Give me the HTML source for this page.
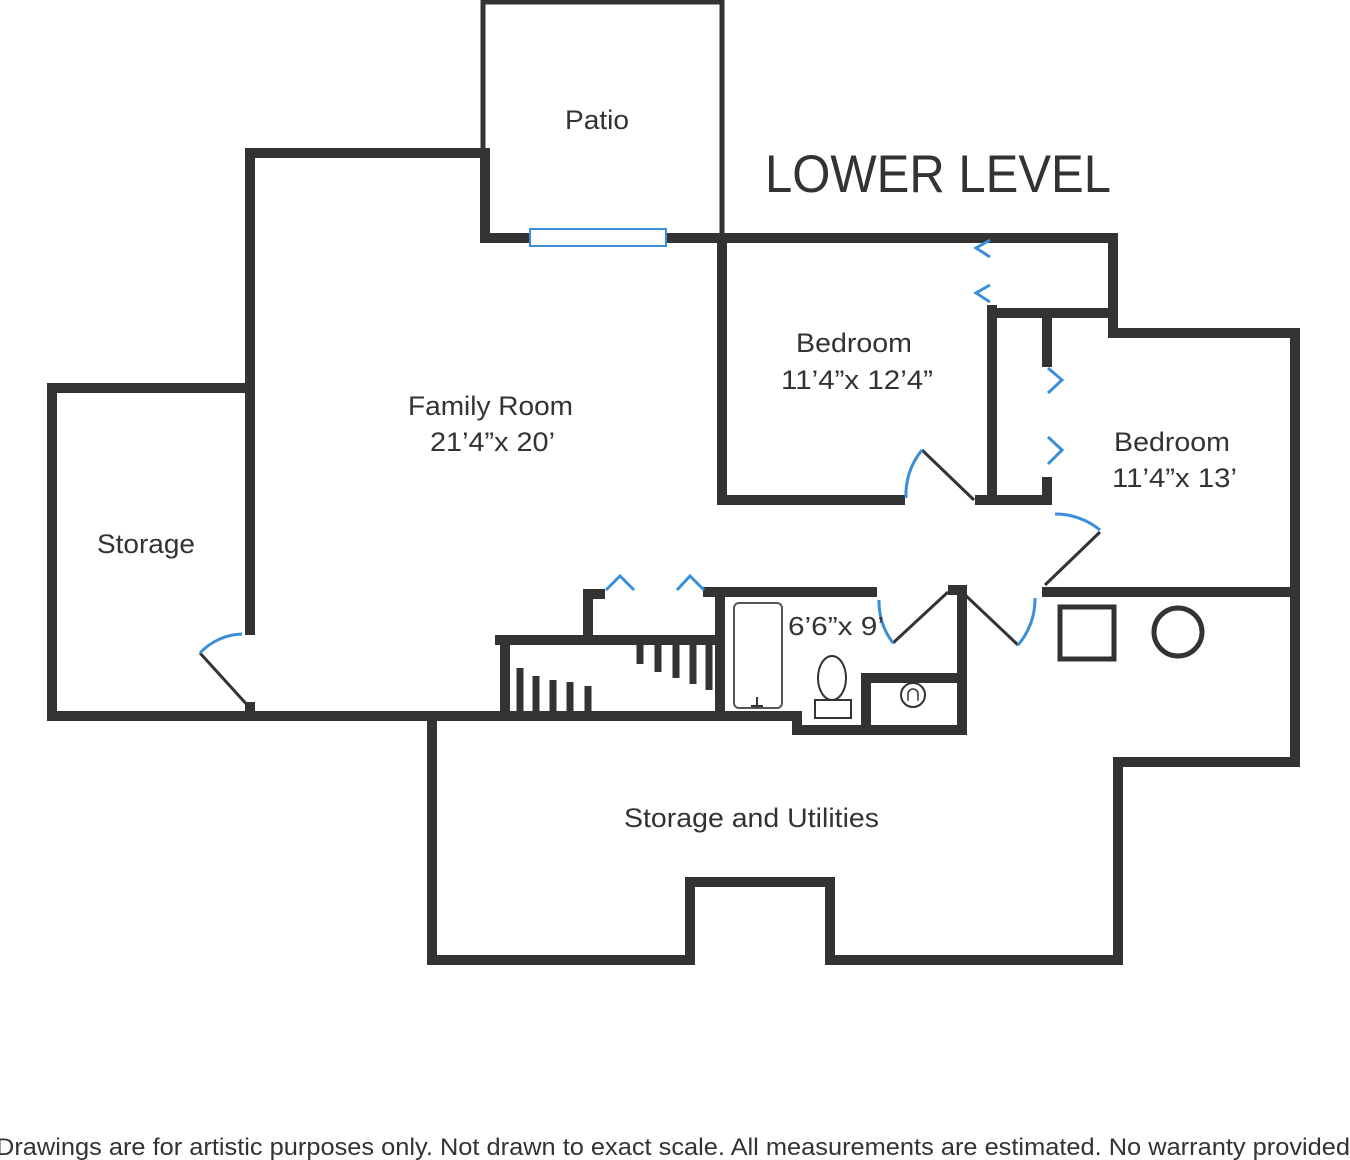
<!DOCTYPE html>
<html><head><meta charset="utf-8"><style>
html,body{margin:0;padding:0;background:#fff;}
svg{display:block;}
text{font-family:"Liberation Sans",sans-serif;fill:#333;}
</style></head><body>
<svg width="1350" height="1160" viewBox="0 0 1350 1160" xmlns="http://www.w3.org/2000/svg">
<g stroke="#333" fill="none" stroke-linecap="square">
<path d="M483,238 V2 H722 V238" stroke-width="5"/>
<g stroke-width="10">
<path d="M250,630 V153 H485 V238 H1113 V333 H1295 V762 H1118 V960 H830 V882 H690 V960 H432 V718"/>
<path d="M250,707 V716 H795"/>
<path d="M52,716 V388 H250"/>
<path d="M52,716 H250"/>
<path d="M722,238 V500 H900"/>
<path d="M992,310 V500 H1047 V482"/>
<path d="M980,500 H1047"/>
<path d="M992,313 H1110"/>
<path d="M1047,313 V362"/>
<path d="M1047,592 H1295"/>
<path d="M708,592 H872"/>
<path d="M720,592 V716"/>
<path d="M953,590 H962 V730 H797 V716"/>
<path d="M866,730 V678 H958"/>
<path d="M500,640 H720"/>
<path d="M505,640 V712"/>
<path d="M588,640 V594 H600"/>
</g>
<g stroke-width="7" stroke-linecap="butt">
<path d="M520,668 V712 M536,676 V712 M553,680 V712 M570,682 V712 M588,686 V712"/>
<path d="M640,644 V664 M658,644 V672 M676,644 V678 M693,644 V684 M709,644 V690"/>
</g>
<g stroke-width="3" stroke-linecap="butt">
<path d="M200,653 L250,708"/>
<path d="M922,450 L974,500"/>
<path d="M1100,532 L1045,585"/>
<path d="M893,643 L948,592"/>
<path d="M962,592 L1018,645"/>
</g>
<rect x="1060" y="607" width="54" height="52" stroke-width="5"/>
<circle cx="1178" cy="632" r="24" stroke-width="5"/>
<rect x="734" y="603" width="48" height="105" rx="5" stroke-width="2" stroke="#555"/>
<ellipse cx="832" cy="678" rx="14" ry="22" stroke-width="2"/>
<rect x="815" y="700" width="36" height="18" stroke-width="2"/>
<circle cx="913" cy="695" r="12" stroke-width="2"/>
<path d="M908,700 v-6 a5,5 0 0 1 10,0 v6" stroke-width="1.5"/>
<path d="M757,706 v-8 M752,706 h10" stroke-width="2"/>
</g>
<g stroke="#3a8fd8" fill="none" stroke-width="3">
<rect x="530" y="229" width="136" height="17" fill="#fff" stroke-width="2"/>
<path d="M242,634 A60,60 0 0 0 200,653"/>
<path d="M922,450 A70,70 0 0 0 906,498"/>
<path d="M1055,514 A70,70 0 0 1 1100,530"/>
<path d="M879,600 A70,70 0 0 0 893,643"/>
<path d="M1035,598 A70,70 0 0 1 1018,645"/>
<path d="M606,590 L620,576 L634,590"/>
<path d="M677,590 L690,576 L704,590"/>
<path d="M990,240 L976,248 L990,257"/>
<path d="M990,285 L976,293 L990,302"/>
<path d="M1048,368 L1062,380 L1048,393"/>
<path d="M1048,437 L1062,450 L1048,464"/>
</g>
<text x="565" y="129" font-size="27" textLength="64" lengthAdjust="spacingAndGlyphs">Patio</text>
<text x="938" y="192" font-size="53" text-anchor="middle" textLength="346" lengthAdjust="spacingAndGlyphs">LOWER LEVEL</text>
<text x="408" y="415" font-size="27" textLength="165" lengthAdjust="spacingAndGlyphs">Family Room</text>
<text x="430" y="451" font-size="27" textLength="125" lengthAdjust="spacingAndGlyphs">21’4”x 20’</text>
<text x="796" y="352" font-size="27" textLength="116" lengthAdjust="spacingAndGlyphs">Bedroom</text>
<text x="781" y="389" font-size="27" textLength="152" lengthAdjust="spacingAndGlyphs">11’4”x 12’4”</text>
<text x="1114" y="451" font-size="27" textLength="116" lengthAdjust="spacingAndGlyphs">Bedroom</text>
<text x="1112" y="487" font-size="27" textLength="125" lengthAdjust="spacingAndGlyphs">11’4”x 13’</text>
<text x="97" y="553" font-size="27" textLength="98" lengthAdjust="spacingAndGlyphs">Storage</text>
<text x="788" y="635" font-size="26" textLength="96" lengthAdjust="spacingAndGlyphs">6’6”x 9’</text>
<text x="624" y="827" font-size="27" textLength="255" lengthAdjust="spacingAndGlyphs">Storage and Utilities</text>
<text x="-4" y="1155" font-size="24" textLength="1354" lengthAdjust="spacingAndGlyphs">Drawings are for artistic purposes only. Not drawn to exact scale. All measurements are estimated. No warranty provided</text>
</svg>
</body></html>
